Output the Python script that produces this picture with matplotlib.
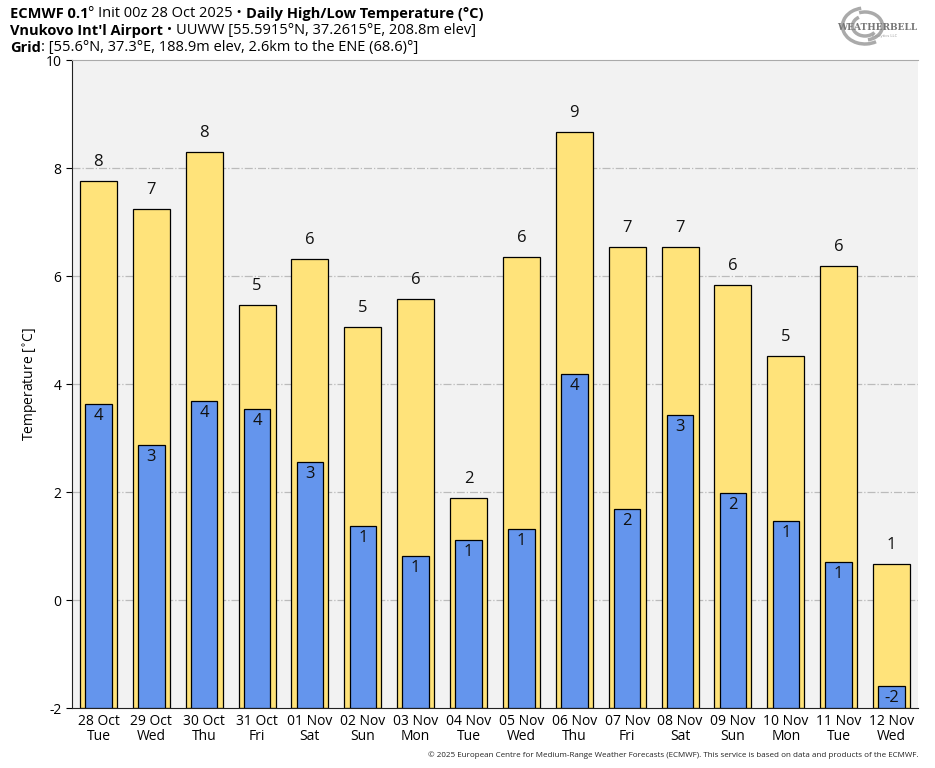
import matplotlib
matplotlib.use("Agg")
from matplotlib import pyplot as plt
from matplotlib.patches import Arc
import numpy as np

dates = ['28 Oct', '29 Oct', '30 Oct', '31 Oct', '01 Nov', '02 Nov', '03 Nov', '04 Nov',
         '05 Nov', '06 Nov', '07 Nov', '08 Nov', '09 Nov', '10 Nov', '11 Nov', '12 Nov']
days = ['Tue', 'Wed', 'Thu', 'Fri', 'Sat', 'Sun', 'Mon', 'Tue',
        'Wed', 'Thu', 'Fri', 'Sat', 'Sun', 'Mon', 'Tue', 'Wed']
highs = [7.76, 7.24, 8.30, 5.46, 6.31, 5.06, 5.57, 1.89,
         6.35, 8.67, 6.54, 6.54, 5.83, 4.52, 6.19, 0.67]
lows = [3.63, 2.87, 3.69, 3.54, 2.56, 1.37, 0.81, 1.11,
        1.31, 4.19, 1.69, 3.43, 1.98, 1.46, 0.70, -1.59]

plt.rcParams['font.family'] = ['Open Sans', 'DejaVu Sans']
plt.rcParams['axes.unicode_minus'] = False

fig = plt.figure(figsize=(9.35, 7.68), dpi=100)
ax = fig.add_axes([72/935, 1 - 708/768, 846/935, 648/768])
ax.set_facecolor('#f2f2f2')

bottom = -2
x = np.arange(len(dates))
hi = np.array(highs)
lo = np.array(lows)

ax.bar(x, hi - bottom, 0.7, bottom=bottom, color='#ffe37a', edgecolor='black', linewidth=0.9, zorder=2)
ax.bar(x, lo - bottom, 0.5, bottom=bottom, color='#6495ed', edgecolor='black', linewidth=0.9, zorder=3)

for i in range(len(x)):
    ax.annotate(f'{int(round(hi[i]))}', (x[i], hi[i]), xytext=(0, 8), textcoords='offset points',
                ha='center', va='bottom', fontsize=12, color='#111111', zorder=4)
    ax.annotate(f'{int(round(lo[i]))}', (x[i], lo[i]), xytext=(0, -3), textcoords='offset points',
                ha='center', va='top', fontsize=12, color='#111111', zorder=4)

# grid
for yv in [0, 2, 4, 6, 8]:
    ax.axhline(yv, color='#bbbbbb', linestyle='-.', linewidth=0.9, zorder=1)

ax.set_xlim(-0.5, 15.5)
ax.set_ylim(-2, 10)
ax.set_yticks(np.arange(-2, 11, 2))
ax.set_xticks(x)
ax.set_xticklabels([d + '\n' + w for d, w in zip(dates, days)], fontsize=10, linespacing=1.0)
ax.tick_params(axis='y', labelsize=10, length=4)
ax.tick_params(axis='x', length=0, pad=4)
ax.set_ylabel('Temperature [$^{\\circ}$C]', fontsize=10)
for s in ['top', 'right']:
    ax.spines[s].set_visible(False)
ax.spines['left'].set_color('#222222')
ax.spines['bottom'].set_color('#222222')

# top line of plot area
fig.add_artist(plt.Line2D([72/935, 918/935], [1 - 60/768, 1 - 60/768], color='#aaaaaa', linewidth=0.8))

# header
fs = 10.5
def line(y, parts):
    t = None
    for txt, bold in parts:
        w = 'bold' if bold else 'normal'
        if t is None:
            t = fig.text(10 / 935, y, txt, fontsize=fs, fontweight=w, va='baseline')
        else:
            t = ax.annotate(txt, xycoords=t, xy=(1, 0), va='bottom', fontsize=fs, fontweight=w)
    return t

line(1 - 18/768, [('ECMWF 0.1', True), ('° Init 00z 28 Oct 2025 • ', False),
                  ('Daily High/Low Temperature (°C)', True)])
line(1 - 35/768, [('Vnukovo Int\'l Airport', True), (' • UUWW [55.5915°N, 37.2615°E, 208.8m elev]', False)])
line(1 - 52/768, [('Grid', True), (': [55.6°N, 37.3°E, 188.9m elev, 2.6km to the ENE (68.6)°]', False)])

# logo
fig.text(877/935, 1 - 28/768, 'WEATHERBELL', fontsize=6.5, color='#777777', ha='center',
         va='center', fontweight='bold', family='DejaVu Serif')
fig.text(885/935, 1 - 36/768, 'Analytics LLC', fontsize=3, color='#999999', ha='center', va='center')
for r, a1, a2 in [(0.9, 100, 300), (0.7, 280, 470), (0.5, 120, 320)]:
    fig.add_artist(Arc((865/935, 1 - 26/768), r * 50/935, r * 40/768, theta1=a1, theta2=a2,
                       color='#aaaaaa', linewidth=2.5, transform=fig.transFigure))

fig.text(918/935, 1 - 755/768,
         '© 2025 European Centre for Medium-Range Weather Forecasts (ECMWF). This service is based on data and products of the ECMWF.',
         fontsize=5.8, ha='right', va='center', color='#222222')

fig.savefig('out.png', dpi=100)
